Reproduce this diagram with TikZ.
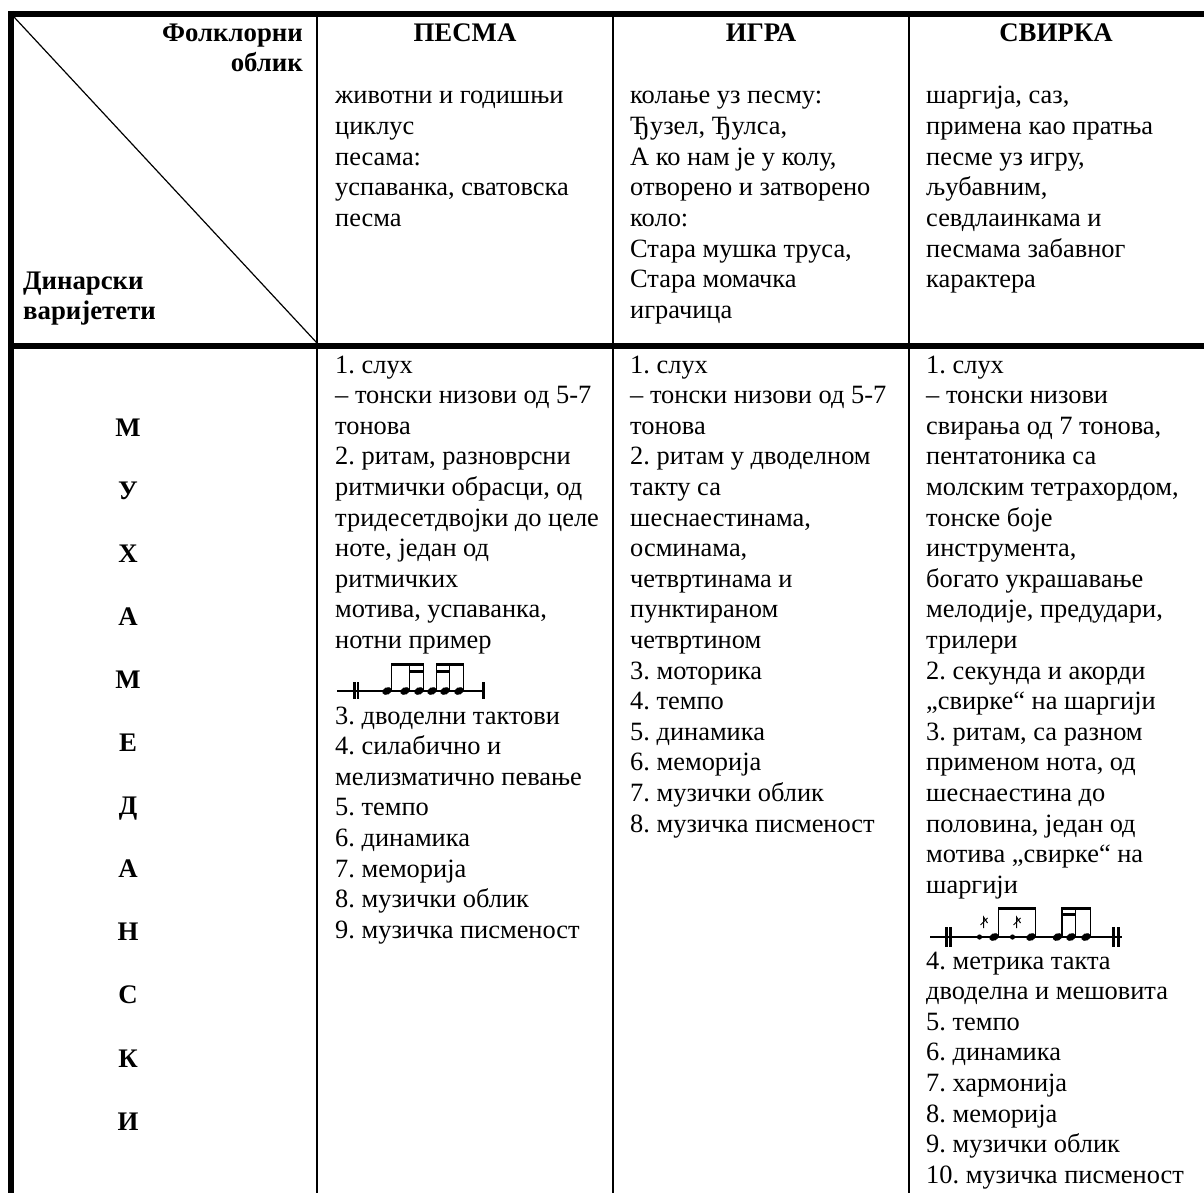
\documentclass[tikz,border=0pt]{standalone}
\usepackage{fontspec}
\setmainfont{Liberation Serif}
\frenchspacing
\tikzset{
  txt/.style={inner sep=0pt, font=\fontsize{26.4}{30.6}\selectfont},
  hd/.style={inner sep=0pt, font=\fontsize{26.8}{30.6}\selectfont\bfseries},
  thickrule/.style={line width=6pt},
  thinrule/.style={line width=2pt},
  diag/.style={line width=1.2pt},
  staff/.style={line width=1.4pt},
  barl/.style={line width=2.8pt},
  stem/.style={line width=1.2pt},
  beam/.style={line width=3.5pt},
  beamb/.style={line width=3pt},
}
\newcommand\txtcol[5]{%
  \foreach \t [count=\i from 0] in {#5}
    \node[txt, anchor=base west] (#1\i) at (#2, #3+\i*#4) {\t};}
\begin{document}
\begin{tikzpicture}[x=1pt,y=-1pt]
\fill[white] (0,0) rectangle (1204,1193);
\useasboundingbox (0,0) rectangle (1204,1193);
% rules
\coordinate (tr) at (1204,14);
\coordinate (bl) at (11,1193);
\coordinate (ml) at (8,346);
\coordinate (mr) at (1204,346);
\draw[thickrule] (8,14) -- (tr);
\draw[thickrule] (11,11) -- (bl);
\draw[thickrule] (ml) -- (mr);
\foreach \x/\n in {317/a,613/b,909/c} {
  \coordinate (top\n) at (\x,17);
  \coordinate (bot\n) at (\x,1193);
  \draw[thinrule] (top\n) -- (bot\n);
}
\coordinate (dg1) at (14,17);
\coordinate (dg2) at (317,343);
\draw[diag] (dg1) -- (dg2);
% header
\node[hd, anchor=base east] (fo1) at (303,42) {Фолклорни};
\node[hd, anchor=base east] (fo2) at (303,72) {облик};
\node[hd, anchor=base west] (di1) at (23,289) {Динарски};
\node[hd, anchor=base west] (di2) at (23,319) {варијетети};
\node[hd, anchor=base] (hpe) at (465,42) {ПЕСМА};
\node[hd, anchor=base] (hig) at (761,42) {ИГРА};
\node[hd, anchor=base] (hsv) at (1056,42) {СВИРКА};
\txtcol{hp}{335}{104}{30.6}{{животни и годишњи},{циклус},{песама:},{успаванка, сватовска},{песма}}
\txtcol{hi}{630}{104}{30.6}{{колање уз песму:},{Ђузел, Ђулса,},{А ко нам је у колу,},{отворено и затворено},{коло:},{Стара мушка труса,},{Стара момачка},{играчица}}
\txtcol{hs}{926}{104}{30.6}{{шаргија, саз,},{примена као пратња},{песме уз игру,},{љубавним,},{севдлаинкама и},{песмама забавног},{карактера}}
% left letters
\foreach \L [count=\i from 0] in {М,У,Х,А,М,Е,Д,А,Н,С,К,И}
  \node[hd, anchor=base] (lt\i) at (128, 436+\i*63.1) {\L};
% body
\txtcol{pa}{335}{373}{30.6}{{1. слух},{– тонски низови од 5-7},{тонова},{2. ритам, разноврсни},{ритмички обрасци, од},{тридесетдвојки до целе},{ноте, један од},{ритмичких},{мотива, успаванка,},{нотни пример}}
\txtcol{pb}{335}{724}{30.6}{{3. дводелни тактови},{4. силабично и},{мелизматично певање},{5. темпо},{6. динамика},{7. меморија},{8. музички облик},{9. музичка писменост}}
\txtcol{ia}{630}{373}{30.6}{{1. слух},{– тонски низови од 5-7},{тонова},{2. ритам у дводелном},{такту са},{шеснаестинама,},{осминама,},{четвртинама и},{пунктираном},{четвртином},{3. моторика},{4. темпо},{5. динамика},{6. меморија},{7. музички облик},{8. музичка писменост}}
\txtcol{sa}{926}{373}{30.6}{{1. слух},{– тонски низови},{свирања од 7 тонова,},{пентатоника са},{молским тетрахордом,},{тонске боје},{инструмента,},{богато украшавање},{мелодије, предудари,},{трилери},{2. секунда и акорди},{„свирке“ на шаргији},{3. ритам, са разном},{применом нота, од},{шеснаестина до},{половина, један од},{мотива „свирке“ на},{шаргији}}
\txtcol{sb}{926}{969}{30.6}{{4. метрика такта},{дводелна и мешовита},{5. темпо},{6. динамика},{7. хармонија},{8. меморија},{9. музички облик},{10. музичка писменост}}
% notation 1 (ПЕСМА)
\draw[staff] (337,691) -- (485,691);
\draw[barl] (354.2,682) -- (354.2,699);
\draw[barl] (358,682) -- (358,699);
\draw[barl] (483.5,682) -- (483.5,699);
\foreach \x in {387,405,419,432,445,459} {
  \fill[rotate around={25:(\x,691)}] (\x,691) ellipse (5 and 3.6);
  \draw[stem] (\x+4.5,690) -- (\x+4.5,663);
}
\draw[beam] (391.5,664.5) -- (423.5,664.5);
\draw[beam] (436.5,664.5) -- (463.5,664.5);
\draw[beamb] (409.5,671) -- (423.5,671);
\draw[beamb] (436.5,671) -- (449.5,671);
% notation 2 (СВИРКА)
\draw[staff] (930,937) -- (1122,937);
\draw[barl] (946.5,927) -- (946.5,947);
\draw[barl] (950.5,927) -- (950.5,947);
\draw[barl] (1113.7,927) -- (1113.7,947);
\draw[barl] (1118.7,927) -- (1118.7,947);
\foreach \g in {979.5,1012.5} {
  \fill (\g,937) circle (2.6);
  \draw[line width=1pt] (\g+4,928) -- (\g+4,917) -- (\g+8,923);
  \draw[line width=1pt] (\g+1,925) -- (\g+8,918);
}
\foreach \x in {994,1031,1057.5,1071,1086} {
  \fill[rotate around={25:(\x,937)}] (\x,937) ellipse (5 and 3.6);
  \draw[stem] (\x+4.5,936) -- (\x+4.5,907);
}
\draw[beam] (998.5,908.5) -- (1035.5,908.5);
\draw[beam] (1062,908.5) -- (1090.5,908.5);
\draw[beamb] (1062,914) -- (1075.5,914);
\end{tikzpicture}
\end{document}
